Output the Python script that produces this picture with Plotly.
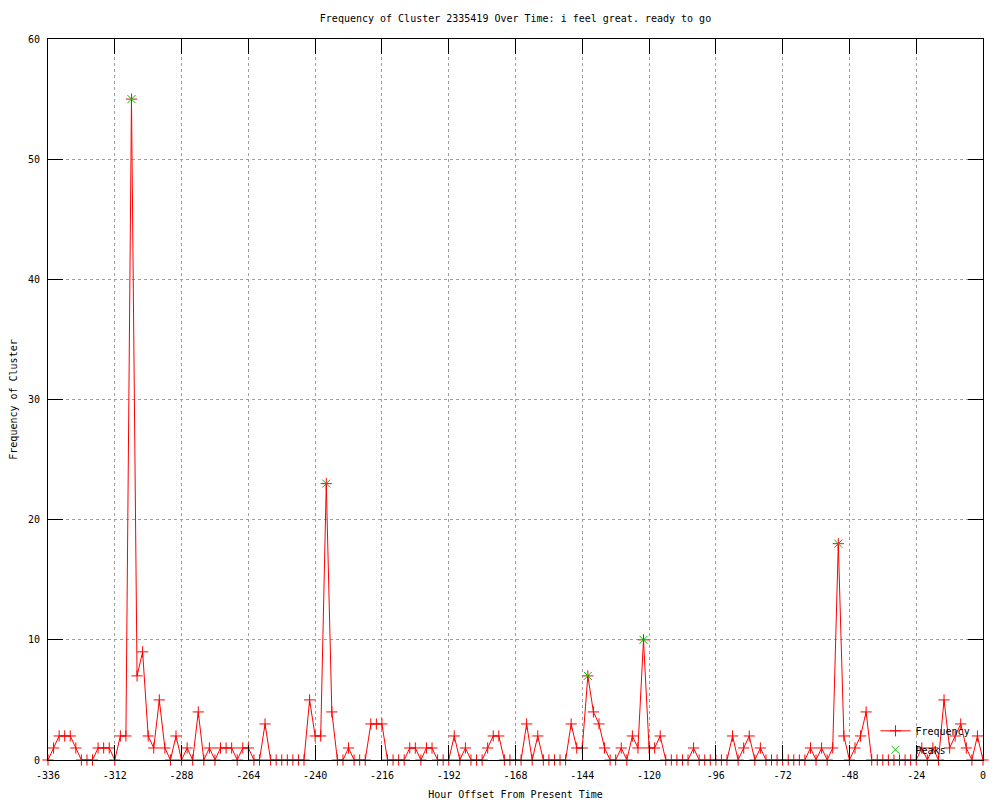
import plotly.graph_objects as go

# Hours (offset from present), every 2 hours from -336 to 0
hours = list(range(-336, 1, 2))

frequency = [
    0, 1, 2, 2, 2, 1, 0, 0, 0, 1, 1, 1, 0, 2, 2, 55, 7, 9, 2, 1,      # -336 .. -298
    5, 1, 0, 2, 0, 1, 0, 4, 0, 1, 0, 1, 1, 1, 0, 1, 1, 0, 0, 3,       # -296 .. -258
    0, 0, 0, 0, 0, 0, 0, 5, 2, 2, 23, 4, 0, 0, 1, 0, 0, 0, 3, 3,      # -256 .. -218
    3, 0, 0, 0, 0, 1, 1, 0, 1, 1, 0, 0, 0, 2, 0, 1, 0, 0, 0, 1,       # -216 .. -178
    2, 2, 0, 0, 0, 0, 3, 0, 2, 0, 0, 0, 0, 0, 3, 1, 1, 7, 4, 3,       # -176 .. -138
    1, 0, 0, 1, 0, 2, 1, 10, 1, 1, 2, 0, 0, 0, 0, 0, 1, 0, 0, 0,      # -136 .. -98
    0, 0, 0, 2, 0, 1, 2, 0, 1, 0, 0, 0, 0, 0, 0, 0, 0, 1, 0, 1,       # -96 .. -58
    0, 1, 18, 2, 0, 1, 2, 4, 0, 0, 0, 0, 0, 0, 0, 0, 0, 1, 0, 1,      # -56 .. -18
    0, 5, 1, 2, 3, 1, 0, 2, 0,                                          # -16 .. 0
]

peak_hours = [-306, -236, -142, -122, -52]
peak_values = [55, 23, 7, 10, 18]

x_tick_vals = [-336, -312, -288, -264, -240, -216, -192, -168, -144, -120, -96, -72, -48, -24, 0]
x_tick_text = ["-336", "-312", "-288", "-264", "-240", "-216", "-192", "-168", "-144",
               "-120", "-96", "-72", "-48", "-24", "0"]
y_tick_vals = [0, 10, 20, 30, 40, 50, 60]

FONT = "DejaVu Sans Mono"
RED = "#ff0000"
GREEN = "#00c000"

# The page body has an 8px margin, so the figure is sized to fit the 1000x800 window.
W, H = 992, 792

fig = go.Figure()
fig.add_trace(go.Scatter(
    x=hours, y=frequency, name="Frequency", mode="lines+markers",
    line=dict(color=RED, width=1),
    marker=dict(symbol="cross-thin", size=8, color=RED, line=dict(color=RED, width=1)),
    cliponaxis=False,
))
fig.add_trace(go.Scatter(
    x=peak_hours, y=peak_values, name="Peaks", mode="markers",
    marker=dict(symbol="x-thin", size=8, color=GREEN, line=dict(color=GREEN, width=1)),
    cliponaxis=False,
))

axis_common = dict(
    showline=True, linecolor="black", linewidth=1, mirror="allticks",
    ticks="inside", ticklen=15, tickwidth=1, tickcolor="black",
    showgrid=True, gridcolor="#a0a0a0", gridwidth=1, griddash="3px,3px",
    zeroline=False, automargin=False,
    tickfont=dict(family=FONT, size=10, color="black"),
)

fig.update_layout(
    width=W, height=H,
    paper_bgcolor="white", plot_bgcolor="white",
    margin=dict(l=40, r=17, t=31, b=40),
    font=dict(family=FONT, size=10, color="black"),
    title=dict(
        text="Frequency of Cluster 2335419 Over Time: i feel great. ready to go",
        x=(40 + 935 / 2) / W, xanchor="center", y=1 - 10 / H, yanchor="middle",
        font=dict(family=FONT, size=10, color="black"),
    ),
    xaxis=dict(
        range=[-336, 0], tickmode="array", tickvals=x_tick_vals, ticktext=x_tick_text,
        ticklabelstandoff=6,
        title=dict(text="Hour Offset From Present Time", standoff=10,
                   font=dict(family=FONT, size=10)),
        **axis_common,
    ),
    yaxis=dict(
        range=[0, 60], tickmode="array", tickvals=y_tick_vals,
        ticklabelstandoff=5,
        title=dict(text="Frequency of Cluster", standoff=10,
                   font=dict(family=FONT, size=10)),
        **axis_common,
    ),
    legend=dict(
        x=0.885, y=-0.006, xanchor="left", yanchor="bottom",
        bgcolor="rgba(0,0,0,0)", borderwidth=0,
        font=dict(family=FONT, size=10, color="black"),
        tracegroupgap=0, itemwidth=30,
    ),
    showlegend=True,
)

fig.write_html("out.html")
